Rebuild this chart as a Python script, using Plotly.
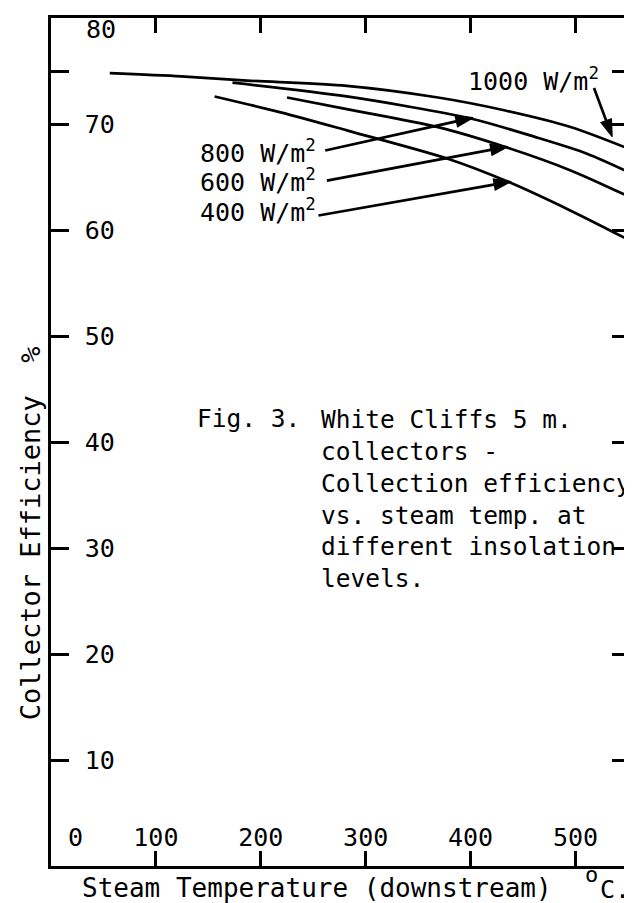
import plotly.graph_objects as go

# ---- data ----
temp_1000 = [56, 124, 187, 282, 369, 432, 496, 550]
eff_1000 = [74.8, 74.5, 74.1, 73.6, 72.5, 71.3, 69.7, 67.7]

temp_800 = [173, 282, 401, 464, 511, 552]
eff_800 = [73.9, 72.6, 70.5, 68.7, 67.2, 65.4]

temp_600 = [225, 282, 369, 434, 496, 552]
eff_600 = [72.5, 71.4, 69.7, 67.8, 65.6, 63.1]

temp_400 = [156, 219, 282, 379, 437, 496, 552]
eff_400 = [72.6, 71.1, 69.4, 66.7, 64.5, 61.8, 59.0]

x_tick_vals = [0, 100, 200, 300, 400, 500]
x_tick_text = ["0", "100", "200", "300", "400", "500"]
y_tick_vals = [10, 20, 30, 40, 50, 60, 70, 80]
y_tick_text = ["10", "20", "30", "40", "50", "60", "70", "80"]
y_minor_ticks = [75]

series_labels = ["1000 W/m<sup>2</sup>", "800 W/m<sup>2</sup>", "600 W/m<sup>2</sup>", "400 W/m<sup>2</sup>"]

caption_lead = "Fig. 3."
caption_lines = ["White Cliffs 5 m.", "collectors -", "Collection efficiency",
                 "vs. steam temp. at", "different insolation", "levels."]

FONT = "DejaVu Sans Mono"
INK = "black"

# plot area in pixels (for paper-coordinate placement of free text)
L, R, T, B = 43, 625, 7, 858
PW, PH = R - L, B - T


def px_x(p):
    return (p - L) / PW


def px_y(p):
    return (B - p) / PH


fig = go.Figure()
for xs, ys in [(temp_1000, eff_1000), (temp_800, eff_800), (temp_600, eff_600), (temp_400, eff_400)]:
    fig.add_trace(go.Scatter(x=xs, y=ys, mode="lines",
                             line=dict(color=INK, width=2.7, shape="spline", smoothing=0.8),
                             hoverinfo="skip", showlegend=False))

# label pointers: tail (near label) -> head (on curve), data coordinates
arrow_tail_x = [517.7, 261.4, 263.0, 255.0]
arrow_tail_y = [73.4, 67.5, 64.66, 61.37]
arrow_head_x = [535.0, 402.4, 435.5, 438.7]
arrow_head_y = [68.8, 70.6, 67.86, 64.57]
for tx, ty, hx, hy in zip(arrow_tail_x, arrow_tail_y, arrow_head_x, arrow_head_y):
    fig.add_trace(go.Scatter(x=[tx, hx], y=[ty, hy], mode="lines+markers",
                             line=dict(color=INK, width=2.7),
                             marker=dict(symbol="arrow", size=[0, 18], angleref="previous",
                                         color=INK, opacity=1, line=dict(width=1.2, color=INK)),
                             hoverinfo="skip", showlegend=False, cliponaxis=False))

ann = []
label_x = [396, 139.8, 139.8, 139.8]
label_y = [74.2, 67.45, 64.65, 61.8]
for txt, lx, ly in zip(series_labels, label_x, label_y):
    ann.append(dict(x=lx, y=ly, xref="x", yref="y", text=txt, showarrow=False,
                    xanchor="left", yanchor="middle", font=dict(family=FONT, size=25, color=INK)))

# caption
ann.append(dict(x=px_x(188), y=px_y(409), xref="paper", yref="paper",
                text=caption_lead, showarrow=False, xanchor="left", yanchor="middle",
                font=dict(family=FONT, size=24.5, color=INK)))
ann.append(dict(x=px_x(312), y=px_y(393), xref="paper", yref="paper",
                text="<br>".join(caption_lines), showarrow=False, xanchor="left", yanchor="top",
                align="left", font=dict(family=FONT, size=24.5, color=INK)))

# 80 label (top, drawn just below the frame) and 0 label (bottom-left)
ann.append(dict(x=0, y=y_tick_vals[-1], xref="x", yref="y", text=y_tick_text[-1], showarrow=False,
                xanchor="left", yanchor="middle", xshift=33, yshift=-11,
                font=dict(family=FONT, size=25, color=INK)))
ann.append(dict(x=x_tick_vals[0], y=0, xref="x", yref="y", text=x_tick_text[0], showarrow=False,
                xanchor="center", yanchor="middle", xshift=24, yshift=29,
                font=dict(family=FONT, size=25, color=INK)))

# axis titles
ann.append(dict(x=px_x(22), y=px_y(524), xref="paper", yref="paper",
                text="Collector Efficiency  %", textangle=-90, showarrow=False,
                xanchor="center", yanchor="middle", font=dict(family=FONT, size=27, color=INK)))
ann.append(dict(x=px_x(73), y=px_y(880), xref="paper", yref="paper",
                text="Steam Temperature (downstream)", showarrow=False, borderpad=0,
                xanchor="left", yanchor="middle", font=dict(family=FONT, size=26, color=INK)))
ann.append(dict(x=px_x(586), y=px_y(867), xref="paper", yref="paper",
                text="o", showarrow=False, borderpad=0,
                xanchor="center", yanchor="middle", font=dict(family=FONT, size=22, color=INK)))
ann.append(dict(x=px_x(594), y=px_y(882), xref="paper", yref="paper",
                text="C.", showarrow=False, borderpad=0,
                xanchor="left", yanchor="middle", font=dict(family=FONT, size=25, color=INK)))

fig.update_layout(
    width=632, height=903,
    margin=dict(l=L, r=632 - R, t=T, b=903 - B),
    paper_bgcolor="white", plot_bgcolor="white",
    showlegend=False,
    annotations=ann,
    xaxis=dict(range=[0, 552], tickvals=x_tick_vals[1:], ticktext=x_tick_text[1:],
               ticks="inside", ticklen=15, tickwidth=2.5, tickcolor=INK,
               ticklabelposition="inside", ticklabelstandoff=2,
               showline=True, linecolor=INK, linewidth=2.5, mirror="ticks",
               showgrid=False, zeroline=False,
               tickfont=dict(family=FONT, size=25, color=INK)),
    yaxis=dict(range=[0, 80], tickvals=y_tick_vals[:-1], ticktext=y_tick_text[:-1],
               ticks="inside", ticklen=18, tickwidth=2.5, tickcolor=INK,
               ticklabelposition="inside", ticklabelstandoff=18,
               minor=dict(tickvals=y_minor_ticks, ticks="inside", ticklen=18,
                          tickwidth=2.5, tickcolor=INK, showgrid=False),
               showline=True, linecolor=INK, linewidth=2.5, mirror="ticks",
               showgrid=False, zeroline=False,
               tickfont=dict(family=FONT, size=25, color=INK)),
)

fig.write_html("out.html")
